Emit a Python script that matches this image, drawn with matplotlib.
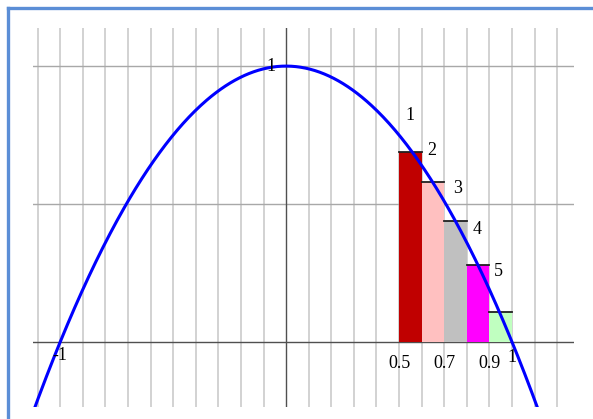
import numpy as np
import matplotlib
matplotlib.use("Agg")
import matplotlib.pyplot as plt
from matplotlib.lines import Line2D

# Data
bar_left = [0.5, 0.6, 0.7, 0.8, 0.9]
bar_heights = [0.69, 0.58, 0.44, 0.28, 0.11]
bar_colors = ["#c00000", "#ffc0c0", "#c0c0c0", "#ff00ff", "#c0ffc0"]
bar_labels = ["1", "2", "3", "4", "5"]
label_x = [0.549, 0.645, 0.757, 0.845, 0.938]
label_y = [0.822, 0.694, 0.558, 0.409, 0.255]
xtick_vals = [0.5, 0.7, 0.9]
xtick_text = ["0.5", "0.7", "0.9"]

W, H = 593, 419
fig = plt.figure(figsize=(W / 100, H / 100), dpi=100)
fig.patch.set_facecolor("white")

# blue frame (top and left edges only; the rest is cut off)
bx, by = 7.5 / W, 1 - 8.5 / H
fig.lines.append(Line2D([bx, 1.02], [by, by], transform=fig.transFigure,
                        color="#5b8ed6", linewidth=2.4, solid_capstyle="projecting"))
fig.lines.append(Line2D([bx, bx], [by, -0.02], transform=fig.transFigure,
                        color="#5b8ed6", linewidth=2.4, solid_capstyle="projecting"))

ax = fig.add_axes([33 / W, 1 - 407 / H, (574 - 33) / W, (407 - 28) / H])
ax.set_xlim(-1.12, 1.274)
ax.set_ylim(-0.235, 1.138)
ax.axis("off")

# grid
for gx in np.arange(-11, 13) / 10:
    if abs(gx) < 1e-9:
        continue
    ax.axvline(gx, color="#cfcfcf", linewidth=1.3, zorder=1)
for gy in [0.5, 1.0]:
    ax.axhline(gy, color="#a8a8a8", linewidth=1.0, zorder=1)
ax.axhline(0, color="#505050", linewidth=1.0, zorder=2)
ax.axvline(0, color="#505050", linewidth=1.0, zorder=2)

# bars
ax.bar(bar_left, bar_heights, width=0.1, align="edge", color=bar_colors,
       edgecolor="none", zorder=3)
for x0, h in zip(bar_left, bar_heights):
    ax.plot([x0, x0 + 0.1], [h, h], color="#202020", linewidth=1.3, zorder=4)

# curve
xs = np.linspace(-1.3, 1.3, 500)
ax.plot(xs, 1 - xs ** 2, color="#0000ff", linewidth=2.2, zorder=5)

font = dict(family="Liberation Serif", fontsize=13, color="black")
for t, x, y in zip(bar_labels, label_x, label_y):
    ax.text(x, y, t, ha="center", va="center", zorder=6, **font)
for v, t in zip(xtick_vals, xtick_text):
    ax.text(v, -0.076, t, ha="center", va="center", zorder=6, **font)
ax.text(1.0, -0.055, "1", ha="center", va="center", zorder=6, **font)
ax.text(-1.0, -0.05, "-1", ha="center", va="center", zorder=6, **font)
ax.text(-0.066, 1.0, "1", ha="center", va="center", zorder=6, **font)

fig.savefig("out.png", dpi=100)
